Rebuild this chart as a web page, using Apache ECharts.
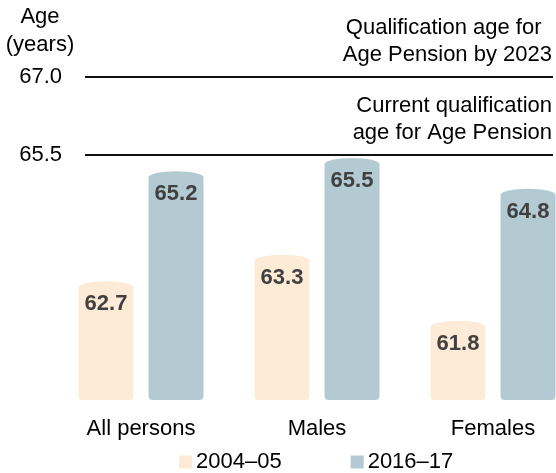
<!DOCTYPE html>
<html>
<head>
<meta charset="utf-8">
<script src="https://cdn.jsdelivr.net/npm/echarts@6/dist/echarts.min.js"></script>
<style>html,body{margin:0;padding:0;background:#fff}#c{width:556px;height:473px}</style>
</head>
<body>
<div id="c"></div>
<script>
const categories = ['All persons', 'Males', 'Females'];
const seriesNames = ['2004–05', '2016–17'];
const values2004 = [62.7, 63.3, 61.8];
const values2016 = [65.2, 65.5, 64.8];
const refValues = [67.0, 65.5];
const refNotes = ['Qualification age for \u2009\nAge Pension by 2023', 'Current qualification\nage for Age Pension'];
const axisTitle = 'Age\n(years)';

const colors = ['#FDEAD7', '#B3CAD2'];
const FONT = 'Liberation Sans, Arial, sans-serif';
const BASE = 60;

function makeRender(sIdx) {
  return function (params, api) {
    const cat = api.value(0), val = api.value(1);
    const band = api.size([1, 0])[0];
    const p = api.coord([cat, val]);
    const b = api.coord([cat, BASE]);
    const cx = p[0] + (sIdx === 0 ? -1 : 1) * band * 0.199;
    const w = 55;
    const x0 = cx - w / 2, x1 = cx + w / 2;
    const yt = p[1], yb = b[1];
    const ry = 6, rb = 4, rx = w / 2;
    const d = 'M' + x0 + ' ' + (yb - rb) +
      ' L' + x0 + ' ' + (yt + ry) +
      ' A' + rx + ' ' + ry + ' 0 0 1 ' + x1 + ' ' + (yt + ry) +
      ' L' + x1 + ' ' + (yb - rb) +
      ' Q' + x1 + ' ' + yb + ' ' + (x1 - rb) + ' ' + yb +
      ' L' + (x0 + rb) + ' ' + yb +
      ' Q' + x0 + ' ' + yb + ' ' + x0 + ' ' + (yb - rb) + ' Z';
    return {
      type: 'group',
      children: [
        { type: 'path', shape: { pathData: d }, style: { fill: colors[sIdx] } },
        { type: 'text', x: cx, y: yt + 23, style: {
            text: val.toFixed(1), fill: '#404040', font: 'bold 22px ' + FONT,
            align: 'center', verticalAlign: 'middle' } }
      ]
    };
  };
}

const valueMarks = refValues.map(function (v) {
  return {
    yAxis: v,
    lineStyle: { color: '#111', width: 2, type: 'solid' },
    label: { show: true, position: 'start', distance: 23, formatter: v.toFixed(1),
      color: '#000', fontSize: 22, fontFamily: FONT, padding: [6, 0, 0, 0] }
  };
});
const noteMarks = refValues.map(function (v, i) {
  return {
    yAxis: v,
    lineStyle: { color: 'rgba(0,0,0,0)', width: 0 },
    label: { show: true, position: 'insideEndTop', distance: [1, 8], formatter: refNotes[i],
      color: '#000', fontSize: 22, fontFamily: FONT, lineHeight: 27, align: 'right' }
  };
});

const chart = echarts.init(document.getElementById('c'), null, { renderer: 'canvas' });
chart.setOption({
  animation: false,
  textStyle: { fontFamily: FONT },
  title: {
    text: axisTitle, left: 40, top: 3, textAlign: 'center', padding: 0,
    textStyle: { fontSize: 22, fontWeight: 'normal', color: '#000', lineHeight: 28, fontFamily: FONT }
  },
  legend: {
    left: 179, top: 451, padding: 0, itemWidth: 13, itemHeight: 13, itemGap: 69,
    icon: 'rect', data: seriesNames,
    textStyle: { fontSize: 22, color: '#000', fontFamily: FONT, padding: [0, 0, 0, -1] }
  },
  grid: [
    { left: 141, right: 63, top: 48, bottom: 73 },
    { left: 85, right: 3, top: 48, bottom: 73 }
  ],
  xAxis: [
    { type: 'category', data: categories, gridIndex: 0, boundaryGap: false,
      axisLine: { show: false }, axisTick: { show: false },
      axisLabel: { fontSize: 22, color: '#000', margin: 18, fontFamily: FONT } },
    { type: 'value', gridIndex: 1, min: 0, max: 1, show: false }
  ],
  yAxis: [
    { type: 'value', gridIndex: 0, min: BASE, max: 68, show: false },
    { type: 'value', gridIndex: 1, min: 60.8, max: 67.55, show: false }
  ],
  series: [
    { name: seriesNames[0], type: 'custom', xAxisIndex: 0, yAxisIndex: 0,
      itemStyle: { color: colors[0] }, renderItem: makeRender(0), clip: false,
      encode: { x: 0, y: 1 },
      data: values2004.map(function (v, i) { return [i, v]; }) },
    { name: seriesNames[1], type: 'custom', xAxisIndex: 0, yAxisIndex: 0,
      itemStyle: { color: colors[1] }, renderItem: makeRender(1), clip: false,
      encode: { x: 0, y: 1 },
      data: values2016.map(function (v, i) { return [i, v]; }) },
    { name: 'ref', type: 'line', xAxisIndex: 1, yAxisIndex: 1, data: [],
      markLine: { silent: true, symbol: 'none', data: valueMarks } },
    { name: 'notes', type: 'line', xAxisIndex: 1, yAxisIndex: 1, data: [],
      markLine: { silent: true, symbol: 'none', data: noteMarks } }
  ]
});
</script>
</body>
</html>
